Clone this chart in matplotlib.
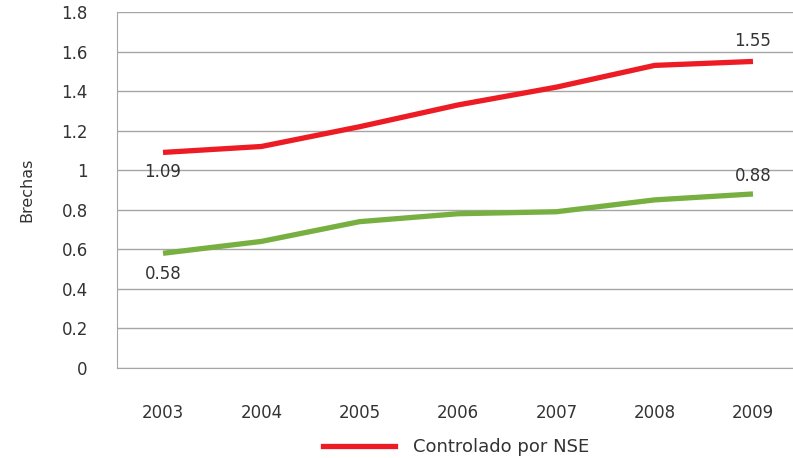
import matplotlib.pyplot as plt
from matplotlib.lines import Line2D

plt.rcParams['font.family'] = ['DejaVu Sans']

years = ['2003', '2004', '2005', '2006', '2007', '2008', '2009']
controlado = [1.09, 1.12, 1.22, 1.33, 1.42, 1.53, 1.55]
sin_control = [0.58, 0.64, 0.74, 0.78, 0.79, 0.85, 0.88]

red = '#ED1C24'
green = '#77B041'
text_col = '#333333'
grid_col = '#a6a6a6'
fs = 12

fig = plt.figure(figsize=(7.93, 4.58), dpi=100)
ax = fig.add_axes([117 / 793, 1 - 368 / 458, 1 - 117 / 793, (368 - 12) / 458])

x = range(len(years))
ax.plot(x, controlado, color=red, lw=3.8, solid_capstyle='butt')
ax.plot(x, sin_control, color=green, lw=3.8, solid_capstyle='butt')

# value labels only at the ends
ax.annotate(f'{controlado[0]:.2f}', (0, controlado[0]), xytext=(0, -14),
            textcoords='offset points', ha='center', va='center', fontsize=fs, color=text_col)
ax.annotate(f'{controlado[-1]:.2f}', (6, controlado[-1]), xytext=(0, 15),
            textcoords='offset points', ha='center', va='center', fontsize=fs, color=text_col)
ax.annotate(f'{sin_control[0]:.2f}', (0, sin_control[0]), xytext=(0, -15),
            textcoords='offset points', ha='center', va='center', fontsize=fs, color=text_col)
ax.annotate(f'{sin_control[-1]:.2f}', (6, sin_control[-1]), xytext=(0, 13),
            textcoords='offset points', ha='center', va='center', fontsize=fs, color=text_col)

ax.set_xlim(-0.468, 6.407)
ax.set_ylim(0, 1.8)
ax.set_yticks([i * 0.2 for i in range(10)])
ax.set_yticklabels(['0', '0.2', '0.4', '0.6', '0.8', '1', '1.2', '1.4', '1.6', '1.8'])
ax.set_xticks(list(x))
ax.set_xticklabels(years)
ax.tick_params(axis='both', length=0, labelsize=fs, labelcolor=text_col)
ax.tick_params(axis='x', pad=26)
ax.tick_params(axis='y', pad=21)
ax.yaxis.grid(True, color=grid_col, lw=1)
ax.set_axisbelow(True)
for s in ['top', 'right']:
    ax.spines[s].set_visible(False)
ax.spines['left'].set_color(grid_col)
ax.spines['bottom'].set_color(grid_col)

fig.text(27 / 793, 1 - 190 / 458, 'Brechas', rotation=90, ha='center', va='center',
         fontsize=11.5, color=text_col)

handle = Line2D([], [], color=red, lw=3.8)
fig.legend([handle], ['Controlado por NSE'], loc='center', bbox_to_anchor=(456 / 793, 1 - 447 / 458),
           frameon=False, fontsize=13, handlelength=4.0, handletextpad=1.0, labelcolor=text_col)

fig.savefig('out.png', dpi=100)
